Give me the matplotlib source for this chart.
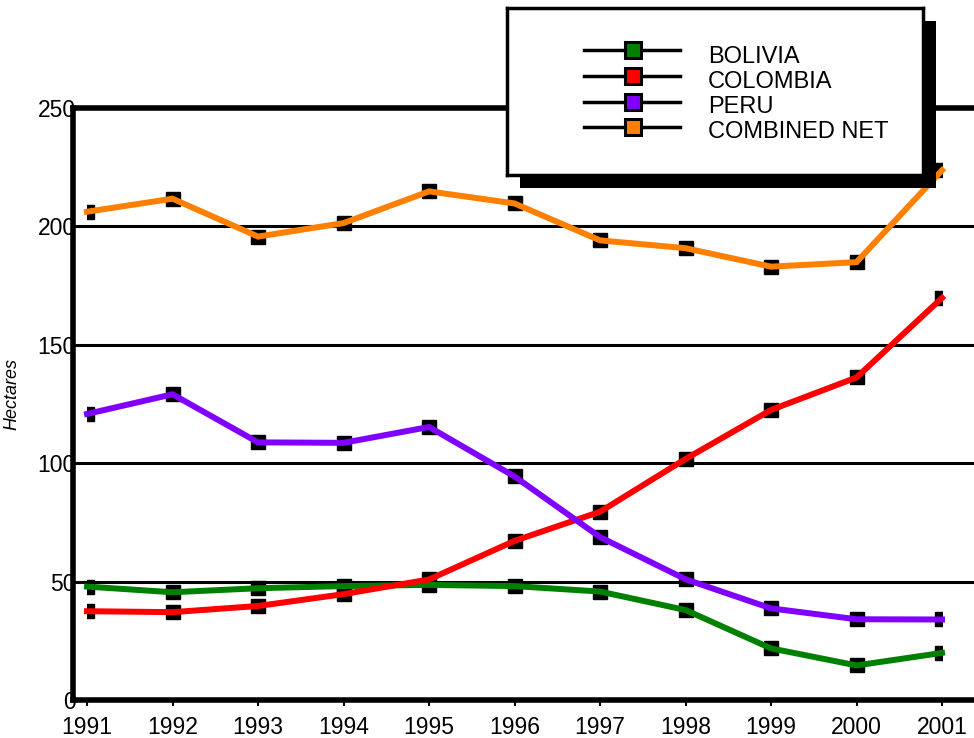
import matplotlib
matplotlib.use("Agg")
import matplotlib.pyplot as plt
from matplotlib.patches import Rectangle
from matplotlib.lines import Line2D

years = [1991, 1992, 1993, 1994, 1995, 1996, 1997, 1998, 1999, 2000, 2001]
bolivia = [47.9, 45.5, 47.2, 48.1, 48.6, 48.1, 45.8, 38.0, 21.8, 14.6, 19.9]
colombia = [37.5, 37.1, 39.7, 44.7, 50.9, 67.2, 79.5, 101.8, 122.5, 136.2, 169.8]
peru = [120.8, 129.1, 108.8, 108.6, 115.3, 94.4, 68.8, 51.0, 38.7, 34.1, 34.0]
combined = [206.2, 211.7, 195.7, 201.4, 214.8, 209.7, 194.1, 190.8, 183.0, 184.9, 223.7]
series_names = ["BOLIVIA", "COLOMBIA", "PERU", "COMBINED NET"]
series_colors = ["#008000", "#ff0000", "#8000ff", "#ff8000"]
yticks = [0, 50, 100, 150, 200, 250]

plt.rcParams['font.family'] = ['Liberation Sans', 'DejaVu Sans']

W, H = 974, 738
fig = plt.figure(figsize=(W / 100, H / 100), dpi=100)
ax = fig.add_axes([73 / W, 1 - 700 / H, 1 - 73 / W, (700 - 108) / H])

ax.set_xlim(1990.836, 2001.374)
ax.set_ylim(0, 250)

clip = Rectangle((years[0], 0), years[-1] - years[0], 250, transform=ax.transData)

for vals, col in zip([bolivia, colombia, peru, combined], series_colors):
    m, = ax.plot(years, vals, linestyle='none', marker='s', markersize=10,
                 color='black', zorder=3)
    m.set_clip_path(clip)
    ax.plot(years, vals, color=col, linewidth=4.3, zorder=4,
            solid_joinstyle='miter')

for y in yticks[1:-1]:
    ax.axhline(y, color='black', linewidth=2.2, zorder=2)

for side in ['left', 'bottom', 'top']:
    ax.spines[side].set_linewidth(4)
ax.spines['right'].set_visible(False)

ax.set_xticks(years)
ax.set_xticklabels([str(y) for y in years], fontsize=16.5)
ax.set_yticks(yticks)
ax.set_yticklabels([str(y) for y in yticks], fontsize=16.5)
ax.tick_params(axis='x', length=4, width=1.5, pad=7.5)
ax.tick_params(axis='y', length=0, pad=-2)
ax.set_ylabel('Hectares', fontsize=13, style='italic')
ax.yaxis.set_label_coords((20 - 73) / (W - 73), (700 - 394) / 592)

# legend with hard shadow
L, T, R, B = 507, 8, 923, 175
off = 13
fig.add_artist(Rectangle(((L + off) / W, 1 - (B + off) / H), (R - L) / W, (B - T) / H,
                         transform=fig.transFigure, facecolor='black',
                         edgecolor='none', zorder=10))
lax = fig.add_axes([L / W, 1 - B / H, (R - L) / W, (B - T) / H], zorder=11)
lax.set_xlim(0, R - L)
lax.set_ylim(B - T, 0)
lax.set_xticks([])
lax.set_yticks([])
for s in lax.spines.values():
    s.set_linewidth(2.5)
rows = [42, 68, 94, 119]
baselines = [55, 80, 105, 130]
for name, col, ry, bl in zip(series_names, series_colors, rows, baselines):
    lax.add_line(Line2D([77, 173], [ry, ry], color='black', linewidth=2.5))
    lax.add_line(Line2D([126], [ry], marker='s', markersize=12,
                        markerfacecolor=col, markeredgecolor='black',
                        markeredgewidth=2.2, linestyle='none'))
    lax.text(201, bl, name, fontsize=17, va='baseline', ha='left')

fig.savefig('out.png', dpi=100)
